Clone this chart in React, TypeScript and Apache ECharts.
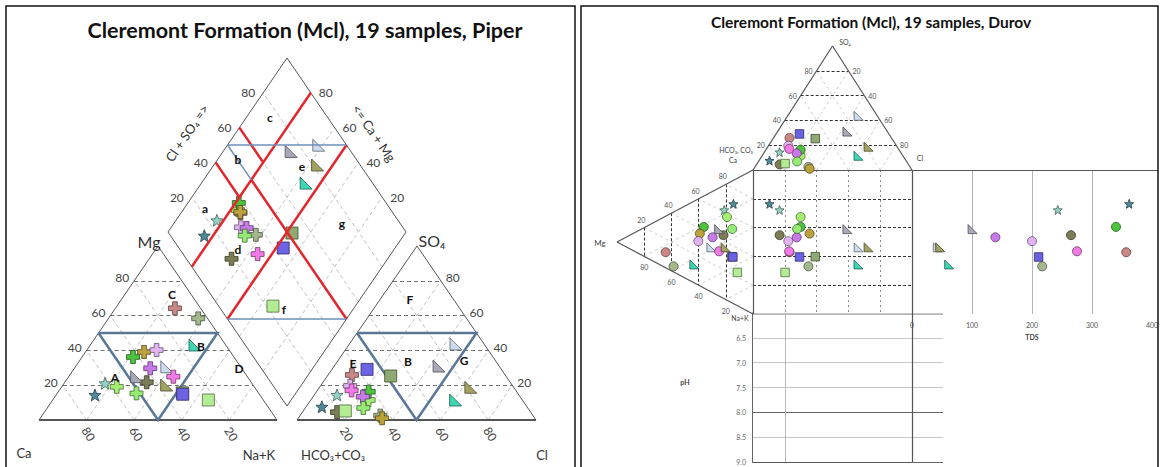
import React, { useEffect, useRef } from "react";
import * as echarts from "echarts";

type Pt = [number, number];

/* Major-ion composition of the Cleremont Formation samples, % of total meq/L */
const calcium = [69.3, 61.7, 57.8, 10.8, 3.9, 12.9, 42.4, 36.3, 30.5, 38.4, 31.0, 43.9, 46.5, 31.1, 36.3, 51.4, 32.0, 32.2, 23.1];
const magnesium = [14.4, 21.1, 19.1, 64.2, 58.4, 43.1, 36.2, 39.1, 40.2, 29.7, 30.6, 21.7, 24.9, 24.9, 20.1, 15.3, 15.6, 14.8, 11.5];
const sodiumPotassium = [16.3, 17.2, 23.1, 25.0, 37.7, 44.0, 21.4, 24.6, 29.3, 31.9, 38.4, 34.4, 28.6, 44.0, 43.6, 33.3, 52.4, 53.0, 65.4];
const bicarbonate = [85.8, 76.1, 64.3, 64.1, 63.9, 27.9, 61.9, 63.9, 68.0, 65.8, 11.7, 81.0, 25.1, 68.7, 17.9, 68.8, 48.2, 56.2, 77.2];
const sulfate = [7.6, 14.4, 11.5, 25.9, 2.5, 11.5, 16.3, 1.0, 19.6, 13.4, 43.7, 4.5, 31.0, 17.0, 18.8, 6.9, 25.3, 29.1, 5.2];
const chloride = [6.6, 9.5, 24.2, 10.0, 33.6, 60.6, 21.8, 35.1, 12.4, 20.8, 44.6, 14.5, 43.9, 14.3, 63.3, 24.3, 26.5, 14.7, 17.6];
/* Total dissolved solids, mg/L (null where not reported) */
const tds: (number | null)[] = [362, 243, null, 357, 217, 62, 340, null, 200, 139, 43, 265, 101, 275, 47, null, null, 211, null];

const percentTicks = [20, 40, 60, 80];
const tdsRange = [0, 400];
const tdsStep = 100;
const phRange = [6, 9];
const phStep = 0.5;

/* Marker used for each sample */
const markerShape = ["star", "star", "cross", "cross", "cross", "tri", "cross", "cross", "cross", "cross", "tri", "cross", "tri", "cross", "tri", "cross", "square", "square", "square"];
const markerFill = ["#4f8a9a", "#93d3c3", "#a4ee72", "#c98888", "#a4b88e", "#3fd6b4", "#4cc43e", "#bca23c", "#e2b4f2", "#c87ae8", "#cddbee", "#7c7c56", "#a9a9b9", "#f27ae6", "#a2a262", "#96ea76", "#8eaa72", "#6c62e4", "#b4ec94"];

const W = 1161;
const H = 467;
const FONT = "Lato, 'Open Sans', 'DejaVu Sans', sans-serif";

/* Page layout of both diagrams (px) */
const PIPER_CATION: Pt[] = [[39, 420], [158, 246], [277, 420]]; // Ca, Mg, Na+K
const PIPER_ANION: Pt[] = [[297, 420], [417, 246], [536, 420]]; // HCO3, SO4, Cl
const DIAMOND = { bottom: [287, 406] as Pt, left: [168, 232] as Pt, right: [406, 232] as Pt };
const DUROV_ANION: Pt[] = [[753, 170], [832.5, 46], [912, 170]]; // HCO3, SO4, Cl
const DUROV_CATION: Pt[] = [[753, 170], [617, 242], [753, 314]]; // Ca, Mg, Na+K
const SQUARE = { x0: 753, x1: 912, y0: 170, y1: 314 };
const TDS_PANEL = { left: 912, top: 170, width: 240, height: 144 };
const PH_PANEL = { left: 752, top: 313, width: 191, height: 149 };

const STAR = "path://M5,0 L6.35,3.55 L10,3.7 L7.2,6.1 L8.1,9.7 L5,7.6 L1.9,9.7 L2.8,6.1 L0,3.7 L3.65,3.55 Z";
const CROSS = "path://M3.2,0 L6.8,0 L6.8,3.2 L10,3.2 L10,6.8 L6.8,6.8 L6.8,10 L3.2,10 L3.2,6.8 L0,6.8 L0,3.2 L3.2,3.2 Z";
const RTRI = "path://M0,0 L0,10 L10,10 Z";

function tern(w: number[], v: Pt[]): Pt {
  const s = w[0] + w[1] + w[2];
  return [
    (w[0] * v[0][0] + w[1] * v[1][0] + w[2] * v[2][0]) / s,
    (w[0] * v[0][1] + w[1] * v[1][1] + w[2] * v[2][1]) / s,
  ];
}

// c = (Ca+Mg) fraction, s = (SO4+Cl) fraction
function diamond(c: number, s: number): Pt {
  const { bottom: b, left: l, right: r } = DIAMOND;
  return [b[0] + c * (l[0] - b[0]) + s * (r[0] - b[0]), b[1] + c * (l[1] - b[1]) + s * (r[1] - b[1])];
}

function darken(hex: string, f = 0.5): string {
  const n = parseInt(hex.slice(1), 16);
  const r = Math.round(((n >> 16) & 255) * f);
  const g = Math.round(((n >> 8) & 255) * f);
  const b = Math.round((n & 255) * f);
  return `rgb(${r},${g},${b})`;
}

function txt(x: number, y: number, text: string, o: any = {}) {
  return {
    type: "text",
    x,
    y,
    rotation: o.rot ?? 0,
    silent: true,
    z: 100,
    style: {
      text,
      fontSize: o.size ?? 12,
      fontFamily: o.font ?? FONT,
      fontWeight: o.bold ? "bold" : "normal",
      fill: o.color ?? "#444",
      align: o.align ?? "center",
      verticalAlign: "middle",
    },
  };
}

function segSeries(name: string, segs: Pt[][], style: any, z: number, polyline = false) {
  return {
    name,
    type: "lines",
    coordinateSystem: "cartesian2d",
    xAxisIndex: 0,
    yAxisIndex: 0,
    polyline,
    silent: true,
    z,
    lineStyle: { opacity: 1, ...style },
    data: segs.map((c) => ({ coords: c })),
  };
}

function buildOption() {
  const fr = percentTicks.map((t) => t / 100);
  const light: Pt[][] = [];
  const dark: Pt[][] = [];
  const outline: Pt[][] = [];
  const bases: Pt[][] = [];
  const blueThick: Pt[][] = [];
  const blueThin: Pt[][] = [];
  const red: Pt[][] = [];
  const durDark: Pt[][] = [];
  const durMid: Pt[][] = [];
  const durLight: Pt[][] = [];
  const durFrame: Pt[][] = [];
  const durFaint: Pt[][] = [];
  const texts: any[] = [];

  // Piper: cation and anion triangles
  for (const T of [PIPER_CATION, PIPER_ANION]) {
    for (const v of fr) {
      dark.push([tern([1 - v, v, 0], T), tern([0, v, 1 - v], T)]);
      light.push([tern([v, 0, 1 - v], T), tern([v, 1 - v, 0], T)]);
      light.push([tern([1 - v, 0, v], T), tern([0, 1 - v, v], T)]);
    }
    outline.push([T[0], T[1]], [T[1], T[2]]);
    bases.push([T[0], T[2]]);
    const a = tern([0.5, 0.5, 0], T);
    const b = tern([0, 0.5, 0.5], T);
    const c = tern([0.5, 0, 0.5], T);
    blueThick.push([a, b, c, a]);
  }

  // Piper: central diamond
  for (const v of fr) {
    light.push([diamond(v, 0), diamond(v, 1)]);
    light.push([diamond(0, v), diamond(1, v)]);
  }
  outline.push(
    [diamond(0, 0), diamond(1, 0)],
    [diamond(1, 0), diamond(1, 1)],
    [diamond(1, 1), diamond(0, 1)],
    [diamond(0, 1), diamond(0, 0)]
  );
  red.push(
    [diamond(0.8, 1), diamond(0.8, 0)],
    [diamond(0.5, 1), diamond(0.5, 0)],
    [diamond(1, 0.6), diamond(0.8, 0.6)],
    [diamond(1, 0.4), diamond(0.8, 0.4)],
    [diamond(0.8, 0.5), diamond(0, 0.5)]
  );
  blueThin.push(
    [diamond(1, 0.5), diamond(0.8, 0.5)],
    [diamond(1, 0.5), diamond(0.5, 1)],
    [diamond(0.5, 0), diamond(0, 0.5)]
  );

  // Durov: triangles and square
  const DA = DUROV_ANION;
  const DC = DUROV_CATION;
  for (const v of fr) {
    durDark.push([tern([1 - v, v, 0], DA), tern([0, v, 1 - v], DA)]);
    durLight.push([tern([v, 0, 1 - v], DA), tern([v, 1 - v, 0], DA)]);
    durLight.push([tern([1 - v, 0, v], DA), tern([0, 1 - v, v], DA)]);
    durDark.push([tern([1 - v, v, 0], DC), tern([0, v, 1 - v], DC)]);
    durLight.push([tern([v, 0, 1 - v], DC), tern([v, 1 - v, 0], DC)]);
    durLight.push([tern([1 - v, 0, v], DC), tern([0, 1 - v, v], DC)]);
    const x = SQUARE.x0 + v * (SQUARE.x1 - SQUARE.x0);
    const y = SQUARE.y0 + v * (SQUARE.y1 - SQUARE.y0);
    durDark.push([[SQUARE.x0, y], [SQUARE.x1, y]]);
    durMid.push([[x, SQUARE.y0], [x, SQUARE.y1]]);
  }
  const phBottom = PH_PANEL.top + PH_PANEL.height;
  durFrame.push(
    [DA[0], DA[1]],
    [DA[1], DA[2]],
    [DC[0], DC[1]],
    [DC[1], DC[2]],
    [[SQUARE.x0, SQUARE.y0], [1158, SQUARE.y0]],
    [[SQUARE.x0, SQUARE.y0], [SQUARE.x0, SQUARE.y1]],
    [[SQUARE.x1, SQUARE.y0], [SQUARE.x1, phBottom]],
    [[SQUARE.x0, phBottom], [SQUARE.x1, phBottom]]
  );
  const phX = SQUARE.x0 + 0.2 * (SQUARE.x1 - SQUARE.x0);
  durFaint.push([[SQUARE.x0, SQUARE.y1], [PH_PANEL.left + PH_PANEL.width, SQUARE.y1]], [[phX, SQUARE.y1], [phX, phBottom]]);

  // ---- tick labels ----
  for (const v of fr) {
    const t = String(Math.round(v * 100));
    const tr = String(Math.round((1 - v) * 100));
    const mg = tern([1 - v, v, 0], PIPER_CATION);
    texts.push(txt(mg[0] - 5, mg[1] - 3, t, { align: "right" }));
    const cab = tern([v, 0, 1 - v], PIPER_CATION);
    texts.push(txt(cab[0] + 2, cab[1] + 14, t, { rot: -1.0 }));
    const so = tern([0, v, 1 - v], PIPER_ANION);
    texts.push(txt(so[0] + 5, so[1] - 3, t, { align: "left" }));
    const clb = tern([1 - v, 0, v], PIPER_ANION);
    texts.push(txt(clb[0] + 2, clb[1] + 14, t, { rot: -1.0 }));
    const dl = diamond(1, v);
    texts.push(txt(dl[0] - 8, dl[1], t, { align: "right" }));
    const dr = diamond(v, 1);
    texts.push(txt(dr[0] + 8, dr[1], t, { align: "left" }));

    const al = tern([1 - v, v, 0], DA);
    texts.push(txt(al[0] - 4, al[1], t, { align: "right", size: 7, color: "#555" }));
    const ar = tern([0, v, 1 - v], DA);
    texts.push(txt(ar[0] + 4, ar[1], tr, { align: "left", size: 7, color: "#555" }));
    const cu = tern([1 - v, v, 0], DC);
    texts.push(txt(cu[0] - 3, cu[1] - 8, tr, { size: 7, color: "#555" }));
    const cl = tern([0, v, 1 - v], DC);
    texts.push(txt(cl[0], cl[1] + 11, t, { size: 7, color: "#555" }));
  }

  // ---- names and class labels ----
  texts.push(
    txt(305, 30, "Cleremont Formation (Mcl), 19 samples, Piper", { size: 21.5, bold: true, color: "#111" }),
    txt(871, 22, "Cleremont Formation (Mcl), 19 samples, Durov", { size: 15.5, bold: true, color: "#111" }),
    txt(149, 241, "Mg", { size: 16, color: "#333" }),
    txt(432, 240, "SO₄", { size: 16, color: "#333" }),
    txt(24, 453, "Ca", { size: 13, color: "#333" }),
    txt(259, 455, "Na+K", { size: 13, color: "#333" }),
    txt(333, 455, "HCO₃+CO₃", { size: 13, color: "#333" }),
    txt(542, 455, "Cl", { size: 13, color: "#333" }),
    txt(187, 133, "Cl + SO₄ =>", { size: 13, color: "#333", rot: 0.97 }),
    txt(374, 133, "<= Ca + Mg", { size: 13, color: "#333", rot: -0.97 })
  );
  const classLabels: [number, number, string][] = [
    [115, 377, "A"], [201, 346, "B"], [172, 294, "C"], [239, 368, "D"],
    [353, 363, "E"], [410, 299, "F"], [464, 360, "G"], [408, 361, "B"],
    [205, 208, "a"], [238, 159, "b"], [270, 117, "c"], [238, 249, "d"], [302, 166, "e"], [284, 309, "f"], [342, 223, "g"],
  ];
  for (const [x, y, s] of classLabels) texts.push(txt(x, y, s, { size: 12, bold: true, color: "#111" }));
  texts.push(
    txt(845, 42, "SO₄", { size: 7, color: "#444" }),
    txt(736, 150, "HCO₃, CO₃", { size: 7, color: "#444" }),
    txt(733, 160, "Ca", { size: 7, color: "#444" }),
    txt(920, 158, "Cl", { size: 7, color: "#444" }),
    txt(600, 243, "Mg", { size: 8, color: "#444" }),
    txt(740, 318, "Na+K", { size: 7, color: "#444" }),
    txt(685, 382, "pH", { size: 7, bold: true, color: "#444" })
  );

  // ---- sample markers ----
  const piperShape: Record<string, string> = { star: STAR, cross: CROSS, tri: RTRI, square: "rect" };
  const piperSize: Record<string, number> = { star: 12, cross: 13, tri: 12, square: 12 };
  const durovShape: Record<string, string> = { star: STAR, cross: "circle", tri: RTRI, square: "rect" };
  const durovSize: Record<string, number> = { star: 9, cross: 9, tri: 9, square: 8.5 };

  const piperItems: any[] = [];
  const durovItems: any[] = [];
  const tdsItems: any[] = [];
  calcium.forEach((ca, i) => {
    const mg = magnesium[i];
    const na = sodiumPotassium[i];
    const hc = bicarbonate[i];
    const so = sulfate[i];
    const cl = chloride[i];
    const k = markerShape[i];
    const style = { color: markerFill[i], borderColor: darken(markerFill[i], 0.45), borderWidth: 0.8, opacity: 1 };
    const pSym = { symbol: piperShape[k], symbolSize: piperSize[k], itemStyle: style };
    const dSym = { symbol: durovShape[k], symbolSize: durovSize[k], itemStyle: style };
    piperItems.push({ value: tern([ca, mg, na], PIPER_CATION), ...pSym });
    piperItems.push({ value: tern([hc, so, cl], PIPER_ANION), ...pSym });
    piperItems.push({ value: diamond((ca + mg) / 100, (so + cl) / 100), ...pSym });
    const da = tern([hc, so, cl], DUROV_ANION);
    const dc = tern([ca, mg, na], DUROV_CATION);
    durovItems.push({ value: da, ...dSym });
    durovItems.push({ value: dc, ...dSym });
    durovItems.push({ value: [da[0], dc[1]], ...dSym });
    const t = tds[i];
    if (t != null) tdsItems.push({ value: [t, (na + mg / 2) / 100], ...dSym });
  });

  const phTickCount = Math.round((phRange[1] - phRange[0]) / phStep) + 1;
  const phLineColors = Array.from({ length: phTickCount }, (_, j) => {
    const v = phRange[0] + j * phStep;
    return v === 8 || v === 9 ? "#666" : "#c4c4c4";
  });
  const tdsTickCount = Math.round((tdsRange[1] - tdsRange[0]) / tdsStep) + 1;
  const tdsLineColors = Array.from({ length: tdsTickCount }, (_, j) => (j === 0 || j === tdsTickCount - 1 ? "rgba(0,0,0,0)" : "#b4b4b4"));

  return {
    animation: false,
    backgroundColor: "#fff",
    grid: [
      { left: 0, top: 0, right: 0, bottom: 0, outerBoundsMode: "none" },
      { ...TDS_PANEL, outerBoundsMode: "none" },
      { ...PH_PANEL, outerBoundsMode: "none" },
    ],
    xAxis: [
      { gridIndex: 0, type: "value", min: 0, max: W, show: false },
      {
        gridIndex: 1,
        type: "value",
        min: tdsRange[0],
        max: tdsRange[1],
        interval: tdsStep,
        axisLine: { show: true, lineStyle: { color: "#c8c8c8" } },
        axisTick: { show: false },
        axisLabel: { fontSize: 7, color: "#555", margin: 7, fontFamily: FONT },
        splitLine: { show: true, lineStyle: { color: tdsLineColors, width: 1 } },
        name: "TDS",
        nameLocation: "middle",
        nameGap: 19,
        nameTextStyle: { fontSize: 7, fontWeight: "bold", color: "#444", fontFamily: FONT },
      },
      { gridIndex: 2, type: "value", min: 0, max: 1, show: false },
    ],
    yAxis: [
      { gridIndex: 0, type: "value", min: 0, max: H, inverse: true, show: false },
      { gridIndex: 1, type: "value", min: 0, max: 1, inverse: true, show: false },
      {
        gridIndex: 2,
        type: "value",
        min: phRange[0],
        max: phRange[1],
        interval: phStep,
        inverse: true,
        axisLine: { show: true, lineStyle: { color: "#666" } },
        axisTick: { show: false },
        axisLabel: {
          fontSize: 7,
          color: "#666",
          margin: 6,
          fontFamily: FONT,
          formatter: (v: number) => (v === phRange[0] ? "" : v.toFixed(1)),
        },
        splitLine: { show: true, lineStyle: { color: phLineColors, width: 1 } },
      },
    ],
    series: [
      segSeries("piper light grid", light, { color: "#c2c2c2", width: 1, type: [4, 3] }, 1),
      segSeries("piper dark grid", dark, { color: "#707070", width: 1, type: [4, 3] }, 2),
      segSeries("piper outline", outline, { color: "#555", width: 1 }, 2),
      segSeries("piper bases", bases, { color: "#555", width: 2 }, 2),
      segSeries("no dominant type", blueThick, { color: "#5b7798", width: 2.5 }, 3, true),
      segSeries("durov light grid", durLight, { color: "#cfcfcf", width: 1, type: [3, 3] }, 1),
      segSeries("durov mid grid", durMid, { color: "#8a8a8a", width: 1, type: [2, 3] }, 2),
      segSeries("durov dark grid", durDark, { color: "#333", width: 1, type: [3, 2] }, 2),
      segSeries("durov faint", durFaint, { color: "#b8b8b8", width: 1 }, 2),
      segSeries("durov frame", durFrame, { color: "#555", width: 1.2 }, 3),
      {
        name: "piper samples",
        type: "scatter",
        xAxisIndex: 0,
        yAxisIndex: 0,
        silent: true,
        z: 4,
        data: piperItems,
      },
      segSeries("facies boundaries", red, { color: "#e3262b", width: 2.5 }, 5),
      segSeries("facies subdivisions", blueThin, { color: "#6f8fba", width: 1.5 }, 5),
      {
        name: "durov samples",
        type: "scatter",
        xAxisIndex: 0,
        yAxisIndex: 0,
        silent: true,
        z: 4,
        data: durovItems,
      },
      {
        name: "tds samples",
        type: "scatter",
        xAxisIndex: 1,
        yAxisIndex: 1,
        silent: true,
        z: 4,
        data: tdsItems,
      },
    ],
    graphic: [
      ...texts,
      {
        type: "rect",
        silent: true,
        z: 100,
        shape: { x: 6, y: 6, width: 569, height: 470 },
        style: { fill: "none", stroke: "#111", lineWidth: 1.5 },
      },
      {
        type: "rect",
        silent: true,
        z: 100,
        shape: { x: 581, y: 6, width: 577, height: 470 },
        style: { fill: "none", stroke: "#111", lineWidth: 1.5 },
      },
    ],
  };
}

export default function App() {
  const ref = useRef<HTMLDivElement>(null);
  useEffect(() => {
    document.body.style.margin = "0";
    const chart = echarts.init(ref.current as HTMLDivElement, null, { renderer: "svg" });
    chart.setOption(buildOption() as any);
    return () => chart.dispose();
  }, []);
  return <div ref={ref} style={{ width: W, height: H, background: "#fff" }} />;
}
